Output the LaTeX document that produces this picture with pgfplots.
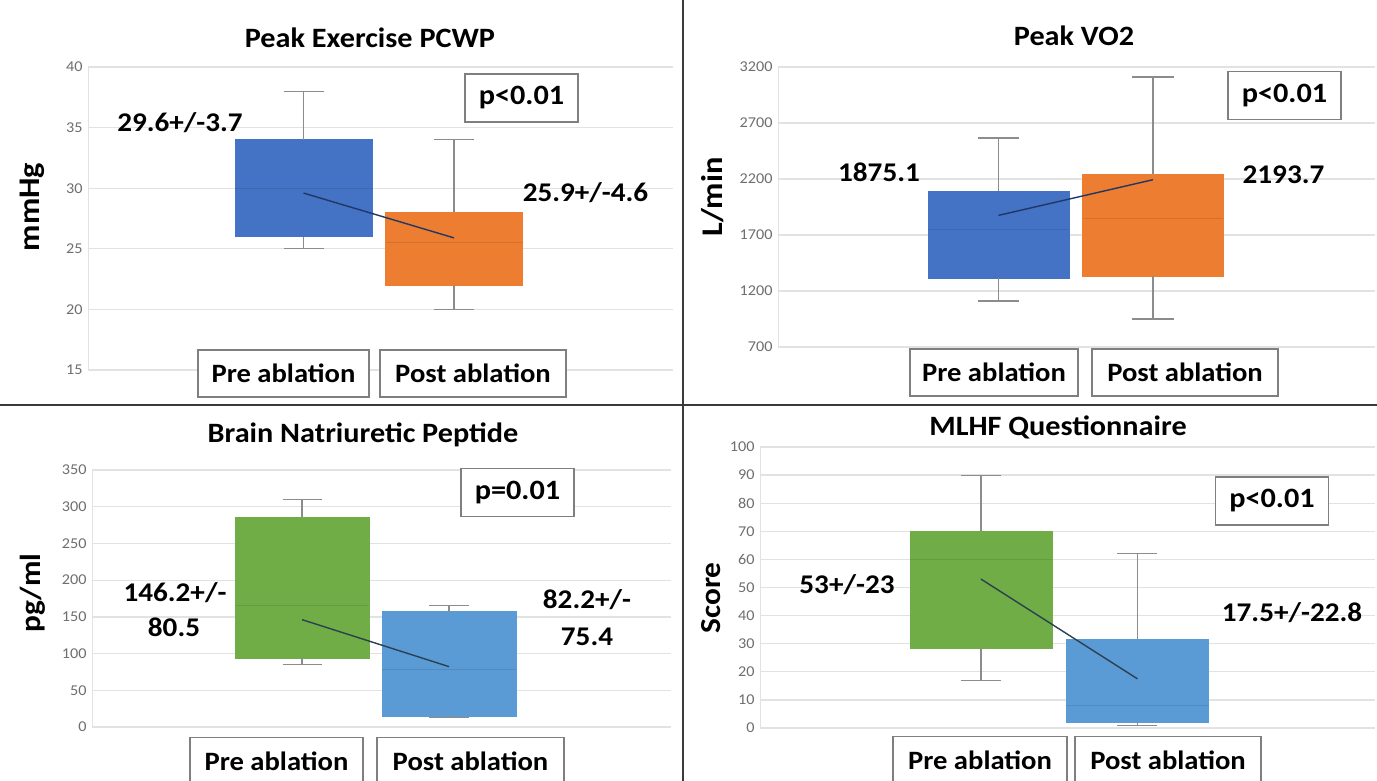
\documentclass[border=0pt]{standalone}
\usepackage{fontspec}
\setmainfont{Carlito}[FakeStretch=1.08]
\usepackage{pgfplots}
\pgfplotsset{compat=1.18}

\definecolor{boxBlue}{HTML}{4472C4}
\definecolor{boxOrange}{HTML}{ED7D31}
\definecolor{boxGreen}{HTML}{70AD47}
\definecolor{boxSky}{HTML}{5B9BD5}
\definecolor{whisk}{HTML}{8C8C8C}
\definecolor{gridgray}{HTML}{E2E2E2}
\definecolor{ticklabel}{HTML}{6E6E6E}
\definecolor{meanTop}{HTML}{203864}
\definecolor{meanBottom}{HTML}{2B4050}
\definecolor{frameGray}{HTML}{7F7F7F}
\definecolor{divider}{HTML}{3A3A3A}

\newcommand\fs[1]{\fontsize{#1bp}{#1bp}\selectfont}

\pgfplotsset{
  panel/.style={
    scale only axis,
    anchor=south west,
    axis x line=none,
    axis y line*=left,
    y axis line style={draw=gridgray, line width=1bp, -},
    xtick=\empty,
    ymajorgrids,
    grid style={draw=gridgray, line width=1.3bp},
    major tick length=0pt,
    yticklabel style={font=\fs{15}, text=ticklabel, xshift=-2bp},
    /pgf/number format/assume math mode=true,
    /pgf/number format/1000 sep={},
    clip=false,
  },
  whiskerline/.style={draw=whisk, line width=1.2bp},
}

% box with whiskers:
% #1 position, #2 half box width, #3 half cap width,
% #4 lower whisker, #5 lower quartile, #6 median, #7 upper quartile, #8 upper whisker, #9 colour
\newcommand\bplot[9]{%
  \pgfmathsetmacro\xl{#1-#2}\pgfmathsetmacro\xr{#1+#2}%
  \pgfmathsetmacro\cl{#1-#3}\pgfmathsetmacro\cr{#1+#3}%
  \edef\doplot{%
    \noexpand\addplot[fill=#9, draw=#9, line width=0.5bp]
      coordinates {(\xl,#5) (\xr,#5) (\xr,#7) (\xl,#7)} -- cycle;
    \noexpand\addplot[draw=#9!90!black, line width=0.8bp]
      coordinates {(\xl,#6) (\xr,#6)};
    \noexpand\addplot[whiskerline] coordinates {(#1,#7) (#1,#8)};
    \noexpand\addplot[whiskerline] coordinates {(\cl,#8) (\cr,#8)};
    \noexpand\addplot[whiskerline] coordinates {(#1,#5) (#1,#4)};
    \noexpand\addplot[whiskerline] coordinates {(\cl,#4) (\cr,#4)};
  }\doplot}

\newcommand\catbox[3]{% position, text, width
  \node[draw=frameGray, line width=1.3bp, fill=white, minimum width=#3, minimum height=47bp,
        font=\fs{26.5}\bfseries, inner sep=0pt] at #1 {#2};}

\begin{document}
\begin{tikzpicture}
\path[fill=white, use as bounding box] (0,0) rectangle (1377bp,-781bp);

% ---------------- Peak Exercise PCWP ----------------
\begin{axis}[panel, at={(88bp,-370bp)}, width=585bp, height=303bp,
  xmin=-0.432, xmax=3.455, ymin=15, ymax=40, ytick={15,20,...,40}]
\bplot{1}{0.455}{0.133}{25}{26}{30}{34}{38}{boxBlue}
\bplot{2}{0.455}{0.133}{20}{22}{25.5}{28}{34}{boxOrange}
\addplot[draw=meanTop, line width=1.4bp] coordinates {(1,29.6) (2,25.9)};
\end{axis}

% ---------------- Peak VO2 ----------------
\begin{axis}[panel, at={(778bp,-347bp)}, width=597bp, height=280bp,
  xmin=-0.427, xmax=3.437, ymin=700, ymax=3200, ytick={700,1200,...,3200}]
\bplot{1}{0.456}{0.135}{1110}{1315}{1750}{2093}{2566}{boxBlue}
\bplot{2}{0.456}{0.135}{950}{1334}{1850}{2245}{3111}{boxOrange}
\addplot[draw=meanTop, line width=1.4bp] coordinates {(1,1875.1) (2,2193.7)};
\end{axis}

% ---------------- Brain Natriuretic Peptide ----------------
\begin{axis}[panel, at={(92bp,-727bp)}, width=579bp, height=257bp,
  xmin=-0.429, xmax=3.51, ymin=0, ymax=350, ytick={0,50,...,350}]
\bplot{1}{0.455}{0.133}{85}{94}{166}{286}{310}{boxGreen}
\bplot{2}{0.455}{0.133}{13}{15}{79}{157}{166}{boxSky}
\addplot[draw=meanBottom, line width=1.4bp] coordinates {(1,146.2) (2,82.2)};
\end{axis}

% ---------------- MLHF Questionnaire ----------------
\begin{axis}[panel, at={(760bp,-728bp)}, width=615bp, height=281bp,
  xmin=-0.412, xmax=3.518, ymin=0, ymax=100, ytick={0,10,...,100}]
\bplot{1}{0.454}{0.128}{17}{28.5}{60}{70}{90}{boxGreen}
\bplot{2}{0.454}{0.128}{1}{2}{8}{31.7}{62}{boxSky}
\addplot[draw=meanBottom, line width=1.4bp] coordinates {(1,53) (2,17.5)};
\end{axis}

% ---------------- titles ----------------
\node[font=\fs{28}\bfseries] at (370bp,-38bp) {Peak Exercise PCWP};
\node[font=\fs{28}\bfseries] at (1074bp,-36bp) {Peak VO2};
\node[font=\fs{28}\bfseries] at (363bp,-435bp) {Brain Natriuretic Peptide};
\node[font=\fs{28}\bfseries] at (1058bp,-427bp) {MLHF Questionnaire};

% ---------------- axis titles ----------------
\node[font=\fs{30}\bfseries, rotate=90] at (32bp,-207bp) {mmHg};
\node[font=\fs{30}\bfseries, rotate=90] at (713bp,-197bp) {L/min};
\node[font=\fs{29}\bfseries, rotate=90] at (33bp,-593bp) {pg/ml};
\node[font=\fs{29}\bfseries, rotate=90] at (711bp,-598bp) {Score};

% ---------------- group names ----------------
\catbox{(283.5bp,-373.5bp)}{Pre ablation}{171bp}
\catbox{(473bp,-373.5bp)}{Post ablation}{186bp}
\catbox{(994bp,-372.5bp)}{Pre ablation}{168bp}
\catbox{(1185bp,-372.5bp)}{Post ablation}{186bp}
\catbox{(276.5bp,-761bp)}{Pre ablation}{173bp}
\catbox{(470.5bp,-761bp)}{Post ablation}{187bp}
\catbox{(980bp,-760bp)}{Pre ablation}{174bp}
\catbox{(1168bp,-760bp)}{Post ablation}{186bp}

% ---------------- p values ----------------
\tikzset{pbox/.style={draw=frameGray, line width=1.3bp, fill=white, minimum width=113bp,
  minimum height=48bp, inner sep=0pt, font=\fs{28}\bfseries}}
\node[pbox] at (521.5bp,-98bp) {p<0.01};
\node[pbox] at (1284.5bp,-95.5bp) {p<0.01};
\node[pbox] at (517.5bp,-492.5bp) {p=0.01};
\node[pbox] at (1272bp,-501bp) {p<0.01};

% ---------------- mean +/- SD ----------------
\tikzset{val/.style={font=\fs{27}\bfseries, inner sep=0pt}}
\node[val] at (180bp,-123bp) {29.6+/-3.7};
\node[val] at (585.5bp,-193bp) {25.9+/-4.6};
\node[val] at (879bp,-172bp) {1875.1};
\node[val] at (1283.5bp,-175bp) {2193.7};
\node[val] at (175bp,-593bp) {146.2+/-};
\node[val] at (174bp,-627bp) {80.5};
\node[val] at (587bp,-600bp) {82.2+/-};
\node[val] at (587bp,-637bp) {75.4};
\node[val] at (847bp,-585bp) {53+/-23};
\node[val] at (1292bp,-613bp) {17.5+/-22.8};

% ---------------- panel dividers ----------------
\draw[divider, line width=2bp] (683bp,0) -- (683bp,-781bp);
\draw[divider, line width=2bp] (0,-405bp) -- (1377bp,-405bp);
\end{tikzpicture}
\end{document}
